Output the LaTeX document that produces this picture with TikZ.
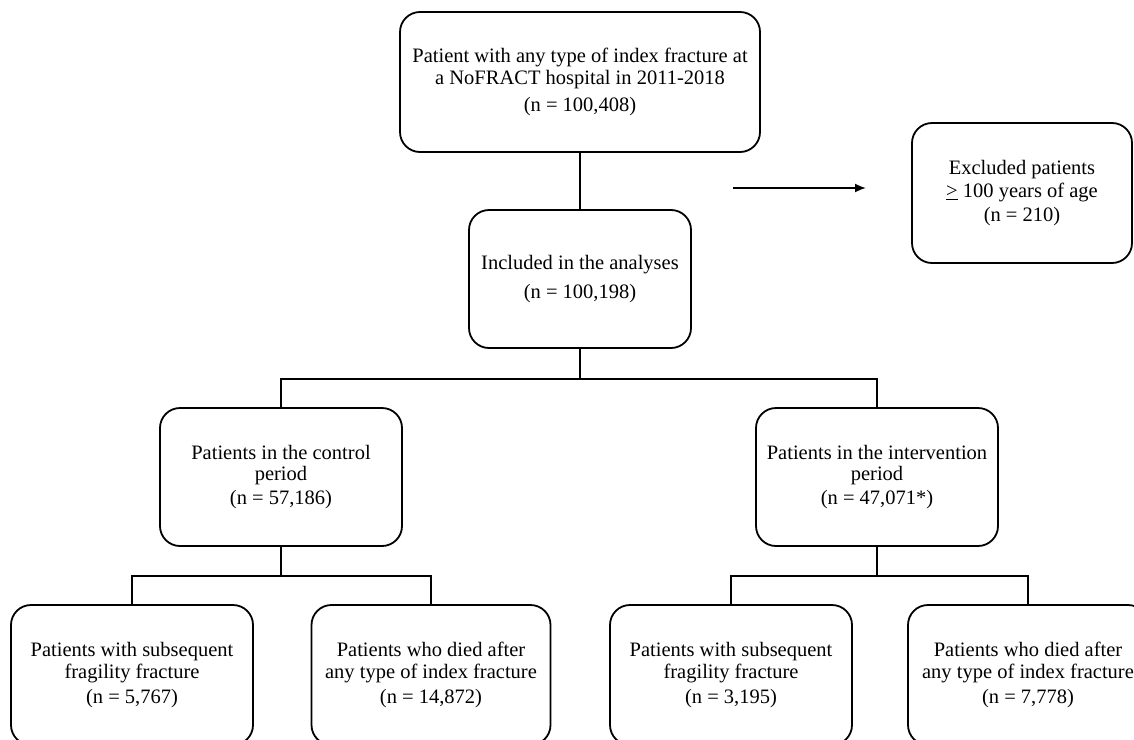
\documentclass[tikz,border=0pt]{standalone}
\usepackage{fontspec}
\setmainfont{Liberation Serif}
\usepackage{tikz}
\usetikzlibrary{shapes,arrows,arrows.meta}
\tikzstyle{box} = [draw, rounded corners = 20pt, line width = 1.8pt, align = center, minimum width = 242pt, minimum height = 138pt, inner sep = 0pt, font = \fontsize{20.5}{21.7}\selectfont]
\tikzstyle{line} = [draw, line width = 1.8pt]

\begin{document}
\begin{tikzpicture}[x = 1pt, y = -1pt]
			\useasboundingbox (0,0) rectangle (1134,739);
			\clip (0,0) rectangle (1134,739);

			\node [box, minimum width = 360pt, minimum height = 140pt] (all) at (580, 82) {Patient with any type of index fracture at\\a NoFRACT hospital in 2011-2018\\[6pt](n = 100,408)};
			\node [box, minimum width = 220pt, minimum height = 140pt] (excluded) at (1022, 193) {Excluded patients\\[2pt]\underline{>} 100 years of age\\[2pt](n = 210)};
			\node [box, minimum width = 222pt] (included) at (580, 279) {Included in the analyses\\[8pt](n = 100,198)};
			\node [box] (control) at (281, 477) {Patients in the control\\period\\[2pt](n = 57,186)};
			\node [box] (intervention) at (877, 477) {Patients in the intervention\\period\\[2pt](n = 47,071*)};
			\node [box, minimum height = 140pt] (csub) at (132, 675) {Patients with subsequent\\fragility fracture\\[3pt](n = 5,767)};
			\node [box, minimum width = 239pt, minimum height = 140pt] (cdied) at (431, 675) {Patients who died after\\any type of index fracture\\[3pt](n = 14,872)};
			\node [box, minimum height = 140pt] (isub) at (731, 675) {Patients with subsequent\\fragility fracture\\[3pt](n = 3,195)};
			\node [box, minimum width = 240pt, minimum height = 140pt] (idied) at (1028, 675) {Patients who died after\\any type of index fracture\\[3pt](n = 7,778)};
			\coordinate (arrfrom) at (733, 188);
			\coordinate (arrto) at (866, 188);

			\path [line] (all) -- (included);
			\path [line, -{Latex[length = 11pt, width = 9pt]}] (arrfrom) -- (arrto);
			\path [line] (included.south) -- ++(0,30) -| (control.north);
			\path [line] (included.south) -- ++(0,30) -| (intervention.north);
			\path [line] (control.south) -- ++(0,29) -| (csub.north);
			\path [line] (control.south) -- ++(0,29) -| (cdied.north);
			\path [line] (intervention.south) -- ++(0,29) -| (isub.north);
			\path [line] (intervention.south) -- ++(0,29) -| (idied.north);
		\end{tikzpicture}
\end{document}
